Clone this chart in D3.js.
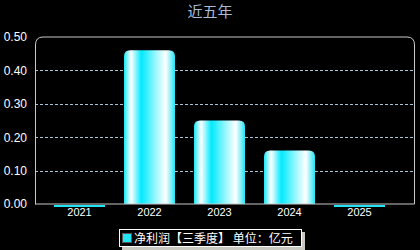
<!doctype html>
<html>
<head>
<meta charset="utf-8">
<style>
  body { margin: 0; background: #000; }
  svg { display: block; }
  .tick text { font-family: "Liberation Sans", Arial, sans-serif; font-size: 11px; fill: #fff; }
  .axis--y .tick text { font-size: 12px; }
</style>
<script src="https://cdn.jsdelivr.net/npm/d3@7/dist/d3.min.js"></script>
</head>
<body>
<svg width="420" height="250"></svg>
<script>
var years = ["2021", "2022", "2023", "2024", "2025"];
var profit = [-0.004, 0.46, 0.25, 0.16, -0.004];
var yTicks = [0, 0.1, 0.2, 0.3, 0.4, 0.5];

var svg = d3.select("svg"),
    plotL = 35, plotR = 415, plotT = 37, plotB = 204;

var x = d3.scaleBand().domain(years).range([44.5, 394.5])
    .paddingInner(19 / 70).paddingOuter(19 / 140);
var y = d3.scaleLinear().domain([0, 0.5]).range([plotB, plotT]);

var grad = svg.append("defs").append("linearGradient")
    .attr("id", "barGrad").attr("x1", "0").attr("x2", "1").attr("y1", "0").attr("y2", "0");
[[0, "#18e6f6"], [0.14, "#ffffff"], [0.34, "#00eaff"], [0.6, "#8ff6ff"], [0.82, "#ffffff"], [1, "#20e4f4"]]
  .forEach(function(s) { grad.append("stop").attr("offset", s[0]).attr("stop-color", s[1]); });

// title
svg.append("text").attr("x", 210).attr("y", 17).attr("text-anchor", "middle")
    .style("font", "15px 'Noto Sans CJK SC', sans-serif").style("fill", "#a9bcd6")
    .text("近五年");

// grid
svg.append("g").selectAll("line").data(yTicks.slice(1, 5)).enter().append("line")
    .attr("x1", plotL).attr("x2", plotR)
    .attr("y1", function(d) { return Math.round(y(d)) + 0.5; })
    .attr("y2", function(d) { return Math.round(y(d)) + 0.5; })
    .style("stroke", "#a8c4d8").style("stroke-dasharray", "3,2");

// bars
function barPath(d, i) {
  var x0 = x(years[i]), w = x.bandwidth(), y0 = y(0), y1 = y(d), r = Math.min(6, Math.abs(y0 - y1) / 2);
  if (d <= 0) return "M" + x0 + "," + (y0 + 1) + "h" + w + "v" + Math.max(2, y1 - y0) + "h" + (-w) + "Z";
  return "M" + x0 + "," + y0 + "V" + (y1 + r) + "Q" + x0 + "," + y1 + " " + (x0 + r) + "," + y1 +
    "H" + (x0 + w - r) + "Q" + (x0 + w) + "," + y1 + " " + (x0 + w) + "," + (y1 + r) + "V" + y0 + "Z";
}
svg.append("g").selectAll("path").data(profit).enter().append("path")
    .attr("d", barPath)
    .style("fill", function(d) { return d > 0 ? "url(#barGrad)" : "#22e4f4"; });

// frame
var rr = 8;
svg.append("path")
    .attr("d", "M" + (plotL + 0.5) + "," + plotB + "V" + (plotT + rr) + "Q" + (plotL + 0.5) + "," + plotT + " " + (plotL + rr) + "," + plotT +
      "H" + (plotR - rr) + "Q" + (plotR - 0.5) + "," + plotT + " " + (plotR - 0.5) + "," + (plotT + rr) + "V" + plotB + "H" + plotL + "Z")
    .style("fill", "none").style("stroke", "#c8c8c8");

// axes
var yAxis = svg.append("g").attr("class", "axis--y").attr("transform", "translate(" + plotL + ",0)")
    .call(d3.axisLeft(y).tickValues(yTicks).tickFormat(d3.format(".2f")).tickSize(0).tickPadding(8));
yAxis.select(".domain").remove();

var xAxis = svg.append("g").attr("transform", "translate(0," + plotB + ")")
    .call(d3.axisBottom(x).tickSize(0).tickPadding(4));
xAxis.select(".domain").remove();

// legend
var lg = svg.append("g").attr("transform", "translate(119,229)");
lg.append("rect").attr("x", 3).attr("y", 3).attr("width", 183).attr("height", 18).style("fill", "#c8c8c0");
lg.append("rect").attr("x", 0.5).attr("y", 0.5).attr("width", 182).attr("height", 17)
    .style("fill", "#000").style("stroke", "#fff");
lg.append("rect").attr("x", 3.5).attr("y", 4.5).attr("width", 9).attr("height", 9)
    .style("fill", "#22e4f4").style("stroke", "#555");
lg.append("text").attr("x", 15).attr("y", 13.5)
    .style("font", "12px 'Noto Sans CJK SC', sans-serif").style("fill", "#fff")
    .text("净利润【三季度】 单位：亿元");
</script>
</body>
</html>
